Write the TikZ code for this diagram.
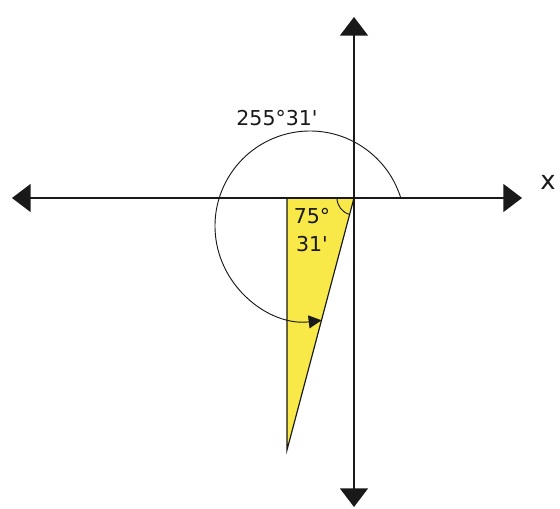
\documentclass[tikz,border=0pt]{standalone}
\usepackage{fontspec}
\newfontfamily\labelfont{DejaVu Sans}
\usepackage{tikz}
\usetikzlibrary{arrows.meta}
\definecolor{wedge}{RGB}{248, 232, 72}
\definecolor{ink}{RGB}{25, 25, 25}

\begin{document}
\begin{tikzpicture}[x=0.03cm, y=0.03cm,
    axis/.style={ink, line width=1.3pt, -{Triangle[length=16pt, width=24pt]}},
    angle/.style={ink, line width=0.8pt},
    label/.style={ink, inner sep=0pt, font=\labelfont\fontsize{17.5}{24}\selectfont}]
  \useasboundingbox (-354, -311) rectangle (206, 198);

  \coordinate (O) at (0, 0);
  \coordinate (A) at (-67, 0);
  \coordinate (B) at (-67, -252);

  \filldraw[fill=wedge, draw=ink, line width=1pt] (O) -- (A) -- (B) -- cycle;

  \foreach \x/\y in {-342/0, 168/0, 0/181, 0/-309} {
    \draw[axis] (O) -- (\x, \y);
  }

  \pgfmathsetmacro{\cx}{-44}
  \pgfmathsetmacro{\cy}{-28}
  \pgfmathsetmacro{\r}{95}

  \draw[angle] (-17, 0) arc (180:255.5:17);
  \draw[angle, -{Triangle[length=11pt, width=11pt]}]
    ({\cx + \r * cos(17)}, {\cy + \r * sin(17)}) arc (17:277:\r);

  \node[label] (big) at (-77, 80) {255°31'};
  \node[label, align=center] (small) at (-42, -32) {75°\\31'};
  \node[label, font=\labelfont\fontsize{22}{26}\selectfont] (xlab) at (194, 16) {x};
\end{tikzpicture}
\end{document}
